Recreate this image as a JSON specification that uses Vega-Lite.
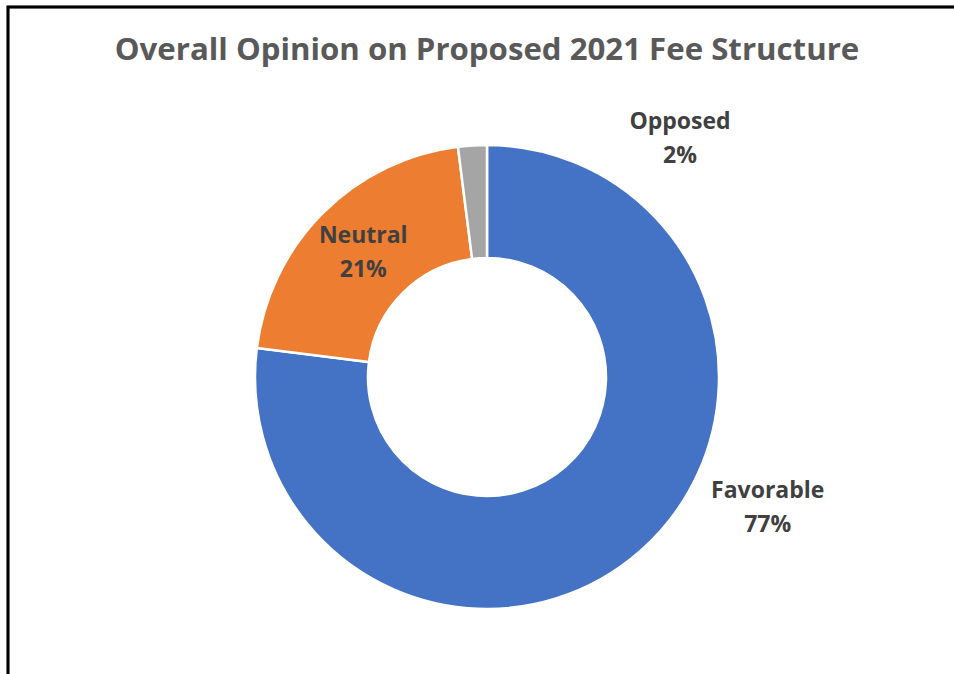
{
  "$schema": "https://vega.github.io/schema/vega-lite/v6.json",
  "autosize": {"type": "none"},
  "padding": {"left": 8, "top": 7, "right": -12, "bottom": -73},
  "width": 958,
  "height": 740,
  "background": "white",
  "config": {"view": {"stroke": null}},
  "title": {
    "text": "Overall Opinion on Proposed 2021 Fee Structure",
    "anchor": "middle",
    "frame": "group",
    "orient": "top",
    "offset": -52,
    "dy": 33,
    "baseline": "alphabetic",
    "font": "Open Sans",
    "fontSize": 31.2,
    "fontWeight": "bold",
    "color": "#595959"
  },
  "data": {
    "values": [
      {"category": "Favorable", "value": 77},
      {"category": "Neutral", "value": 21},
      {"category": "Opposed", "value": 2}
    ]
  },
  "transform": [
    {"calculate": "datum.category + '\\n' + datum.value + '%'", "as": "label"}
  ],
  "layer": [
    {
      "mark": {"type": "rect", "fill": null, "stroke": "black", "strokeWidth": 2.5},
      "encoding": {}
    },
    {
      "mark": {"type": "arc", "innerRadius": 119, "outerRadius": 232, "stroke": "white", "strokeWidth": 2.5},
      "encoding": {
        "theta": {"field": "value", "type": "quantitative", "stack": true},
        "order": {"field": "category", "sort": "ascending"},
        "color": {
          "field": "category",
          "type": "nominal",
          "scale": {"domain": ["Favorable", "Neutral", "Opposed"], "range": ["#4472C4", "#ED7D31", "#A5A5A5"]},
          "legend": null
        }
      }
    },
    {
      "mark": {"type": "text", "radius": 175, "dy": -17, "font": "Open Sans", "fontSize": 23, "fontWeight": "bold", "color": "#404040", "lineBreak": "\n", "lineHeight": 34, "align": "center", "baseline": "middle"},
      "encoding": {
        "theta": {"field": "value", "type": "quantitative", "stack": true},
        "order": {"field": "category", "sort": "ascending"},
        "text": {"condition": {"test": "datum.category == 'Neutral'", "field": "label"}, "value": ""}
      }
    },
    {
      "mark": {"type": "text", "radius": 175, "dx": 165, "dy": -17, "font": "Open Sans", "fontSize": 23, "fontWeight": "bold", "color": "#404040", "lineBreak": "\n", "lineHeight": 34, "align": "center", "baseline": "middle"},
      "encoding": {
        "theta": {"field": "value", "type": "quantitative", "stack": true},
        "order": {"field": "category", "sort": "ascending"},
        "text": {"condition": {"test": "datum.category == 'Favorable'", "field": "label"}, "value": ""}
      }
    },
    {
      "mark": {"type": "text", "radius": 175, "dx": 204, "dy": -80, "font": "Open Sans", "fontSize": 23, "fontWeight": "bold", "color": "#404040", "lineBreak": "\n", "lineHeight": 34, "align": "center", "baseline": "middle"},
      "encoding": {
        "theta": {"field": "value", "type": "quantitative", "stack": true},
        "order": {"field": "category", "sort": "ascending"},
        "text": {"condition": {"test": "datum.category == 'Opposed'", "field": "label"}, "value": ""}
      }
    }
  ]
}
